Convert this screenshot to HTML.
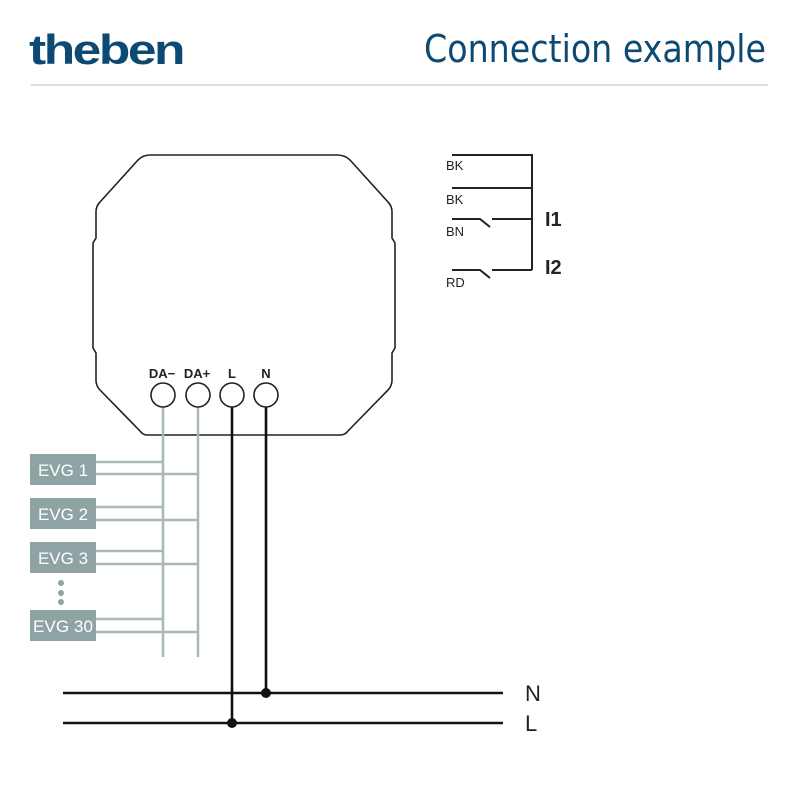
<!DOCTYPE html>
<html><head><style>
html,body{margin:0;padding:0;background:#fff;width:800px;height:800px;overflow:hidden}
</style></head><body>
<svg width="800" height="800" viewBox="0 0 800 800" xmlns="http://www.w3.org/2000/svg" style="display:block">
<text x="29" y="64" font-family="Liberation Sans, sans-serif" font-size="42" font-weight="bold" fill="#0d4a73" letter-spacing="-2" textLength="154" lengthAdjust="spacingAndGlyphs">theben</text>
<text x="766" y="62" text-anchor="end" font-family="Liberation Sans Narrow, DejaVu Sans Condensed, sans-serif" font-size="38" fill="#0d4a73" textLength="342" lengthAdjust="spacingAndGlyphs">Connection example</text>
<line x1="31" y1="85" x2="768" y2="85" stroke="#d4d4d4" stroke-width="1.5"/>
<path d="M150,155 L337,155 Q345,155 350,160 L388,202 Q392,206 392,212 L392,238 L395,243 L395,348 L392,353 L392,380 Q392,386 388,390 L348,431 Q345,435 340,435 L147,435 Q143,435 140,431 L100,390 Q96,386 96,380 L96,353 L93,348 L93,243 L96,238 L96,212 Q96,206 100,202 L138,160 Q143,155 150,155 Z" fill="none" stroke="#222" stroke-width="1.6"/>
<g font-family="Liberation Sans, sans-serif" font-size="13" font-weight="bold" fill="#222" text-anchor="middle">
<text x="162" y="378">DA−</text><text x="197" y="378">DA+</text><text x="232" y="378">L</text><text x="266" y="378">N</text>
</g>
<g stroke="#a9b7b9" stroke-width="2.5" fill="none">
<line x1="163" y1="407" x2="163" y2="657"/><line x1="198" y1="407" x2="198" y2="657"/>
<path d="M96,462H163M96,474H198M96,507H163M96,520H198M96,551H163M96,564H198M96,619H163M96,632H198"/>
</g>
<g stroke="#111" stroke-width="2.6" fill="none">
<line x1="232" y1="407" x2="232" y2="723"/><line x1="266" y1="407" x2="266" y2="693"/>
<line x1="63" y1="693" x2="503" y2="693"/><line x1="63" y1="723" x2="503" y2="723"/>
</g>
<circle cx="266" cy="693" r="5" fill="#111"/><circle cx="232" cy="723" r="5" fill="#111"/>
<g fill="#fff" stroke="#222" stroke-width="1.6">
<circle cx="163" cy="395" r="12"/><circle cx="198" cy="395" r="12"/><circle cx="232" cy="395" r="12"/><circle cx="266" cy="395" r="12"/>
</g>
<g fill="#8fa3a5"><rect x="30" y="454" width="66" height="31"/><rect x="30" y="498" width="66" height="31"/><rect x="30" y="542" width="66" height="31"/><rect x="30" y="610" width="66" height="31"/>
<circle cx="61" cy="583" r="3"/><circle cx="61" cy="593" r="3"/><circle cx="61" cy="602" r="3"/></g>
<g font-family="Liberation Sans, sans-serif" font-size="17" fill="#fff" text-anchor="middle">
<text x="63" y="476">EVG 1</text><text x="63" y="520">EVG 2</text><text x="63" y="564">EVG 3</text><text x="63" y="632" textLength="60" lengthAdjust="spacingAndGlyphs">EVG 30</text>
</g>
<g font-family="Liberation Sans, sans-serif" font-size="22" fill="#222"><text x="525" y="701">N</text><text x="525" y="731">L</text></g>
<g stroke="#222" stroke-width="2" fill="none">
<path d="M452,155H532V270M452,188H532M452,219H480L490,227M492,219H532M452,270H480L490,278M492,270H532"/>
</g>
<g font-family="Liberation Sans, sans-serif" font-size="13" fill="#222">
<text x="446" y="170">BK</text><text x="446" y="204">BK</text><text x="446" y="236">BN</text><text x="446" y="287">RD</text>
</g>
<g font-family="Liberation Sans, sans-serif" font-size="20" font-weight="bold" fill="#222"><text x="545" y="226">I1</text><text x="545" y="274">I2</text></g>
</svg>
</body></html>
